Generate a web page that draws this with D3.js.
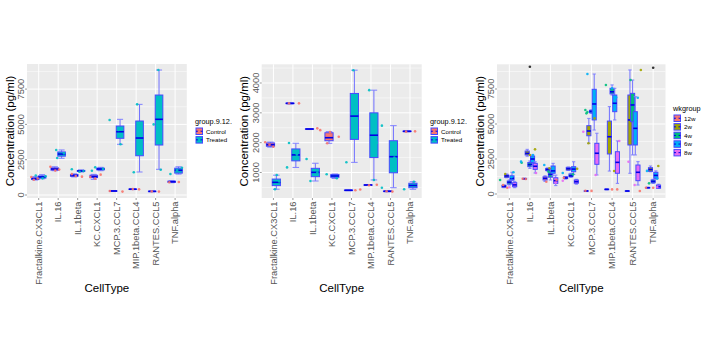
<!DOCTYPE html>
<html>
<head>
<meta charset="utf-8">
<script src="https://cdn.jsdelivr.net/npm/d3@7"></script>
<style>
  body { margin: 0; background: #fff; }
  svg { font-family: "Liberation Sans", Arial, sans-serif; }
</style>
</head>
<body>
<svg id="chart" width="704" height="352"></svg>
<script>
/* Three ggplot-style boxplot panels of cytokine concentration by cell type */

const cellTypes = ["Fractalkine.CX3CL1", "IL.16", "IL.1beta", "KC.CXCL1",
  "MCP.3.CCL7", "MIP.1beta.CCL4", "RANTES.CCL5", "TNF.alpha"];

const treatGroups = ["Control", "Treated"];
const treatColors = ["#F8766D", "#00BFC4"];
const weekGroups = ["12w", "2w", "4w", "6w", "8w"];
const weekColors = ["#F8766D", "#A3A500", "#00BF7D", "#00B0F6", "#E76BF3"];

// box stats per cell type: [lower whisker, q1, median, q3, upper whisker]
// panel A
const yTicksA = [0, 2500, 5000, 7500];
const yDomainA = [-212, 9277];
const controlA = [
  [1060, 1110, 1150, 1220, 1300], [1720, 1760, 1840, 1920, 2000],
  [1280, 1330, 1380, 1450, 1500], [1110, 1230, 1300, 1400, 1460],
  [250, 270, 285, 300, 320], [380, 395, 410, 425, 440],
  [240, 250, 260, 270, 280], [870, 900, 940, 980, 1010]
];
const treatedA = [
  [1150, 1200, 1280, 1350, 1440], [2600, 2750, 2900, 3050, 3190],
  [1630, 1680, 1700, 1740, 1780], [1720, 1780, 1840, 1900, 1960],
  [3590, 4015, 4480, 4885, 5360], [1630, 2780, 4035, 5240, 6420],
  [1820, 3540, 5360, 7080, 8850], [1480, 1550, 1750, 1900, 2000]
];
// points: [cell index, group, value, jitter (category units)]
const pointsA = [
  [0, "Control", 1280, -0.38], [0, "Control", 1080, -0.25], [0, "Control", 1170, -0.05],
  [0, "Treated", 1380, -0.15], [0, "Treated", 1180, 0.2], [0, "Treated", 1320, 0.35],
  [1, "Control", 2000, -0.4], [1, "Control", 1800, 0.05], [1, "Control", 1730, -0.15],
  [1, "Treated", 3190, -0.1], [1, "Treated", 2620, -0.05], [1, "Treated", 2950, 0.3],
  [2, "Control", 1300, 0.22], [2, "Control", 1480, -0.3], [2, "Control", 1350, -0.1],
  [2, "Treated", 1820, -0.3], [2, "Treated", 1700, 0.3], [2, "Treated", 1650, 0.1],
  [3, "Control", 1160, -0.1], [3, "Control", 1440, 0.18], [3, "Control", 1280, -0.35],
  [3, "Treated", 1720, -0.27], [3, "Treated", 1960, -0.1], [3, "Treated", 1850, 0.3],
  [4, "Control", 280, -0.35], [4, "Control", 240, 0.3],
  [4, "Treated", 5310, -0.36], [4, "Treated", 3590, 0.2], [4, "Treated", 4600, 0.1],
  [5, "Control", 420, -0.17], [5, "Control", 400, 0.15],
  [5, "Treated", 6420, 0.05], [5, "Treated", 1610, -0.12], [5, "Treated", 4200, 0.25],
  [6, "Control", 240, 0.17], [6, "Control", 260, -0.2],
  [6, "Treated", 8850, 0.14], [6, "Treated", 1790, 0.26], [6, "Treated", 5000, -0.1],
  [7, "Control", 920, 0.19], [7, "Control", 900, -0.3],
  [7, "Treated", 1490, -0.24], [7, "Treated", 1930, 0.35], [7, "Treated", 1750, 0.1]
];

// panel B
const yTicksB = [1000, 2000, 3000, 4000];
const yDomainB = [145, 4627];
const controlB = [
  [1850, 1880, 1930, 1990, 2020], [3300, 3310, 3318, 3325, 3335],
  [2440, 2450, 2457, 2465, 2475], [1978, 2065, 2166, 2333, 2370],
  [390, 395, 404, 410, 418], [570, 575, 581, 588, 595],
  [355, 362, 370, 378, 385], [2365, 2372, 2380, 2388, 2395]
];
const treatedB = [
  [440, 560, 670, 780, 910], [1170, 1390, 1590, 1790, 1980],
  [715, 860, 1005, 1140, 1310], [800, 840, 883, 930, 950],
  [1340, 2110, 2890, 3650, 4430], [750, 1500, 2250, 3000, 3760],
  [490, 990, 1530, 2065, 2570], [437, 490, 565, 640, 692]
];
const pointsB = [
  [0, "Control", 2012, -0.42], [0, "Control", 1864, 0.0], [0, "Control", 1930, -0.2],
  [0, "Treated", 916, 0.17], [0, "Treated", 437, 0.08], [0, "Treated", 700, 0.3],
  [1, "Control", 3318, 0.31], [1, "Control", 3318, -0.2],
  [1, "Treated", 1990, -0.2], [1, "Treated", 1170, -0.3], [1, "Treated", 1600, 0.2],
  [2, "Control", 2480, 0.25], [2, "Control", 2420, 0.4],
  [2, "Treated", 1450, -0.3], [2, "Treated", 715, -0.1], [2, "Treated", 1000, 0.25],
  [3, "Control", 2360, -0.1], [3, "Control", 1978, -0.24], [3, "Control", 2200, 0.35],
  [3, "Treated", 940, -0.27], [3, "Treated", 806, 0.25],
  [4, "Control", 404, 0.2], [4, "Control", 430, 0.45],
  [4, "Treated", 1342, -0.26], [4, "Treated", 4430, 0.1], [4, "Treated", 3000, 0.3],
  [5, "Control", 590, 0.3], [5, "Control", 570, -0.1],
  [5, "Treated", 3760, -0.09], [5, "Treated", 750, 0.15], [5, "Treated", 2000, 0.3],
  [6, "Control", 370, -0.2], [6, "Control", 360, 0.1],
  [6, "Treated", 2570, -0.44], [6, "Treated", 491, -0.44], [6, "Treated", 1500, 0.2],
  [7, "Control", 2380, 0.26], [7, "Control", 2370, -0.2],
  [7, "Treated", 437, -0.3], [7, "Treated", 692, 0.2]
];

// panel C
const yTicksC = [0, 2500, 5000, 7500];
const yDomainC = [-286, 9264];
const w12C = [
  [450, 480, 560, 620, 650], [1050, 1070, 1090, 1110, 1130],
  [900, 1000, 1120, 1230, 1300], [1070, 1100, 1150, 1230, 1250],
  [200, 210, 220, 230, 240], [300, 320, 333, 345, 360],
  [190, 200, 214, 225, 235], [420, 440, 450, 465, 480]
];
const w2C = [
  [1160, 1190, 1290, 1360, 1430], [2700, 2790, 2900, 3070, 3190],
  [1640, 1670, 1750, 1830, 1860], [1690, 1710, 1800, 1900, 1930],
  [3620, 4160, 4500, 4880, 5400], [1640, 2860, 4090, 5210, 6240],
  [1480, 3500, 5290, 7070, 8860], [1590, 1620, 1750, 1880, 2000]
];
const w4C = [
  [640, 710, 840, 930, 1000], [1830, 1950, 2100, 2250, 2360],
  [1000, 1200, 1400, 1590, 1800], [1190, 1240, 1300, 1430, 1480],
  [5760, 5800, 5900, 5980, 6000], [7070, 7150, 7300, 7550, 7790],
  [2790, 5160, 6360, 7190, 8140], [760, 800, 900, 1000, 1050]
];
const w6C = [
  [950, 1000, 1120, 1300, 1550], [2000, 2240, 2500, 2710, 2790],
  [1300, 1480, 1650, 2000, 2190], [1400, 1590, 1780, 1950, 2300],
  [4570, 5290, 6430, 7480, 8570], [5290, 5880, 6480, 7070, 7550],
  [2790, 3500, 4690, 5880, 6950], [1050, 1120, 1330, 1550, 1650]
];
const w8C = [
  [450, 520, 650, 810, 900], [1500, 1760, 1980, 2190, 2300],
  [600, 760, 950, 1160, 1350], [700, 770, 880, 1000, 1050],
  [1360, 2120, 2910, 3620, 4340], [760, 1480, 2260, 3020, 3790],
  [640, 950, 1550, 2070, 2310], [400, 410, 520, 640, 700]
];
const outliersC = [[1, "4w", 9090], [7, "4w", 9020]];
const pointsC = [
  [0, "12w", 640, -0.3], [0, "12w", 450, -0.1], [0, "2w", 1430, -0.2], [0, "4w", 1000, -0.45],
  [0, "6w", 1550, 0.2], [0, "8w", 480, 0.0], [0, "6w", 1200, 0.1],
  [1, "12w", 1090, -0.35], [1, "12w", 1070, -0.2], [1, "2w", 3190, 0.25], [1, "2w", 2790, 0.0],
  [1, "4w", 2230, -0.4], [1, "6w", 2310, -0.43], [1, "8w", 1500, 0.3], [1, "6w", 2790, 0.15],
  [2, "6w", 2070, -0.3], [2, "2w", 1840, -0.05], [2, "12w", 880, -0.2], [2, "8w", 800, 0.25],
  [2, "4w", 1600, -0.1], [2, "12w", 1000, 0.3],
  [3, "6w", 1500, -0.4], [3, "12w", 1160, -0.35], [3, "8w", 950, -0.4], [3, "2w", 1800, 0.3],
  [3, "4w", 1400, 0.1],
  [4, "12w", 230, -0.3], [4, "12w", 220, 0.0], [4, "2w", 5400, 0.15], [4, "2w", 3620, -0.15],
  [4, "4w", 6000, -0.3], [4, "4w", 5760, -0.25], [4, "4w", 5850, -0.2], [4, "6w", 8570, -0.2],
  [4, "8w", 4450, -0.4], [4, "8w", 1360, 0.2],
  [5, "12w", 330, 0.0], [5, "12w", 330, 0.25], [5, "4w", 7790, -0.3], [5, "6w", 7550, 0.0],
  [5, "6w", 6900, 0.2], [5, "8w", 3790, 0.35], [5, "2w", 1640, 0.1],
  [6, "12w", 214, 0.35], [6, "2w", 8860, 0.4], [6, "4w", 8140, -0.1], [6, "6w", 6880, 0.25],
  [6, "8w", 643, 0.1], [6, "8w", 2300, -0.2],
  [7, "12w", 450, -0.35], [7, "12w", 450, 0.0], [7, "2w", 2000, 0.25], [7, "4w", 760, -0.2],
  [7, "6w", 1100, 0.2], [7, "6w", 1650, -0.3], [7, "8w", 500, 0.2]
];

const svg = d3.select("#chart");

function drawPanel(p) {
  const g = svg.append("g");
  const x = d3.scalePoint().domain(cellTypes).range([p.left, p.right]).padding(0.6);
  const unit = x.step();
  const y = d3.scaleLinear().domain(p.yDomain).range([p.bottom, p.top]);

  // panel background
  g.append("rect")
    .attr("x", p.left).attr("y", p.top)
    .attr("width", p.right - p.left).attr("height", p.bottom - p.top)
    .attr("fill", "#EBEBEB");

  // grid
  const step = p.yTicks[1] - p.yTicks[0];
  const minor = [];
  for (let t = p.yTicks[0] - step / 2; t < p.yDomain[1]; t += step) {
    if (t > p.yDomain[0]) minor.push(t);
  }
  g.selectAll(".minor").data(minor).join("line")
    .attr("x1", p.left).attr("x2", p.right)
    .attr("y1", d => y(d)).attr("y2", d => y(d))
    .attr("stroke", "#fff").attr("stroke-width", 0.5);
  g.selectAll(".hmajor").data(p.yTicks).join("line")
    .attr("x1", p.left).attr("x2", p.right)
    .attr("y1", d => y(d)).attr("y2", d => y(d))
    .attr("stroke", "#fff").attr("stroke-width", 1);
  g.selectAll(".vmajor").data(cellTypes).join("line")
    .attr("x1", d => x(d)).attr("x2", d => x(d))
    .attr("y1", p.top).attr("y2", p.bottom)
    .attr("stroke", "#fff").attr("stroke-width", 1);

  // boxes
  const n = p.groups.length;
  const offset = i => (i - (n - 1) / 2) * p.dodge * unit;
  const bw = p.boxW * unit;
  p.boxes.forEach((stats, gi) => {
    stats.forEach((s, ci) => {
      const cx = x(cellTypes[ci]) + offset(gi);
      const bg = g.append("g");
      bg.append("line")
        .attr("x1", cx).attr("x2", cx).attr("y1", y(s[0])).attr("y2", y(s[1]))
        .attr("stroke", "#7070ff").attr("stroke-width", 1);
      bg.append("line")
        .attr("x1", cx).attr("x2", cx).attr("y1", y(s[3])).attr("y2", y(s[4]))
        .attr("stroke", "#7070ff").attr("stroke-width", 1);
      [s[0], s[4]].forEach(v => {
        bg.append("line")
          .attr("x1", cx - bw * 0.4).attr("x2", cx + bw * 0.4)
          .attr("y1", y(v)).attr("y2", y(v))
          .attr("stroke", "#8080ff").attr("stroke-width", 1);
      });
      bg.append("rect")
        .attr("x", cx - bw / 2).attr("y", y(s[3]))
        .attr("width", bw).attr("height", Math.max(0.5, y(s[1]) - y(s[3])))
        .attr("fill", p.colors[gi])
        .attr("stroke", "#4848ff").attr("stroke-width", 1);
      bg.append("line")
        .attr("x1", cx - bw / 2).attr("x2", cx + bw / 2)
        .attr("y1", y(s[2])).attr("y2", y(s[2]))
        .attr("stroke", "#0000e6").attr("stroke-width", 1.6);
    });
  });

  // outliers
  (p.outliers || []).forEach(o => {
    g.append("circle")
      .attr("cx", x(cellTypes[o[0]]) + offset(p.groups.indexOf(o[1])))
      .attr("cy", y(o[2])).attr("r", 1.3).attr("fill", "#333");
  });

  // jittered points
  g.selectAll(".pt").data(p.points).join("circle")
    .attr("cx", d => x(cellTypes[d[0]]) + d[3] * unit)
    .attr("cy", d => y(d[2]))
    .attr("r", 1.3)
    .attr("fill", d => p.colors[p.groups.indexOf(d[1])])
    .attr("opacity", 0.9);

  // axes
  g.selectAll(".ytick").data(p.yTicks).join("line")
    .attr("x1", p.left - 2).attr("x2", p.left)
    .attr("y1", d => y(d)).attr("y2", d => y(d))
    .attr("stroke", "#555").attr("stroke-width", 0.6);
  g.selectAll(".ylab").data(p.yTicks).join("text")
    .attr("transform", d => `translate(${p.left - 3},${y(d)}) rotate(-90)`)
    .attr("text-anchor", "middle")
    .attr("font-size", 9.3)
    .attr("fill", "#555")
    .text(d => d);
  g.selectAll(".xtick").data(cellTypes).join("line")
    .attr("x1", d => x(d)).attr("x2", d => x(d))
    .attr("y1", p.bottom).attr("y2", p.bottom + 2)
    .attr("stroke", "#555").attr("stroke-width", 0.6);
  g.selectAll(".xlab").data(cellTypes).join("text")
    .attr("transform", d => `translate(${x(d) + 3.3},${p.bottom + 3.5}) rotate(-90)`)
    .attr("text-anchor", "end")
    .attr("font-size", 9.3)
    .attr("fill", "#555")
    .text(d => d);

  // axis titles
  g.append("text")
    .attr("x", (p.left + p.right) / 2).attr("y", 292)
    .attr("text-anchor", "middle")
    .attr("font-size", 11.5)
    .attr("fill", "#000")
    .text("CellType");
  g.append("text")
    .attr("transform", `translate(${p.left - 13.5},${(p.top + p.bottom) / 2}) rotate(-90)`)
    .attr("text-anchor", "middle")
    .attr("font-size", 11.5)
    .attr("fill", "#000")
    .text("Concentration (pg/ml)");

  // legend
  const lg = g.append("g");
  lg.append("text")
    .attr("x", p.legendX).attr("y", p.legendY)
    .attr("font-size", 7.3)
    .attr("fill", "#000")
    .text(p.legendTitle);
  p.groups.forEach((name, i) => {
    const ky = p.legendY + 4 + i * 8.6;
    lg.append("rect")
      .attr("x", p.legendX + 1).attr("y", ky)
      .attr("width", 6.5).attr("height", 6.5)
      .attr("fill", p.colors[i])
      .attr("stroke", "#4848ff").attr("stroke-width", 1);
    lg.append("line")
      .attr("x1", p.legendX + 1).attr("x2", p.legendX + 7.5)
      .attr("y1", ky + 3.25).attr("y2", ky + 3.25)
      .attr("stroke", "#0000e6").attr("stroke-width", 1);
    lg.append("circle")
      .attr("cx", p.legendX + 4.25).attr("cy", ky + 3.25).attr("r", 1.3)
      .attr("fill", p.colors[i]);
    lg.append("text")
      .attr("x", p.legendX + 11).attr("y", ky + 5.5)
      .attr("font-size", 6.2)
      .attr("fill", "#000")
      .text(name);
  });
}

drawPanel({
  left: 27, right: 186.8, top: 64, bottom: 198,
  yDomain: yDomainA, yTicks: yTicksA,
  groups: treatGroups, colors: treatColors,
  boxes: [controlA, treatedA], dodge: 0.35, boxW: 0.39,
  points: pointsA, legendTitle: "group.9.12.", legendX: 195, legendY: 124
});
drawPanel({
  left: 261.7, right: 421.7, top: 64.3, bottom: 198,
  yDomain: yDomainB, yTicks: yTicksB,
  groups: treatGroups, colors: treatColors,
  boxes: [controlB, treatedB], dodge: 0.3, boxW: 0.42,
  points: pointsB, legendTitle: "group.9.12.", legendX: 430, legendY: 124
});
drawPanel({
  left: 497, right: 665.5, top: 64.3, bottom: 198,
  yDomain: yDomainC, yTicks: yTicksC,
  groups: weekGroups, colors: weekColors,
  boxes: [w12C, w2C, w4C, w6C, w8C], dodge: 0.13, boxW: 0.2,
  points: pointsC, outliers: outliersC,
  legendTitle: "wkgroup", legendX: 673, legendY: 111
});
</script>
</body>
</html>
